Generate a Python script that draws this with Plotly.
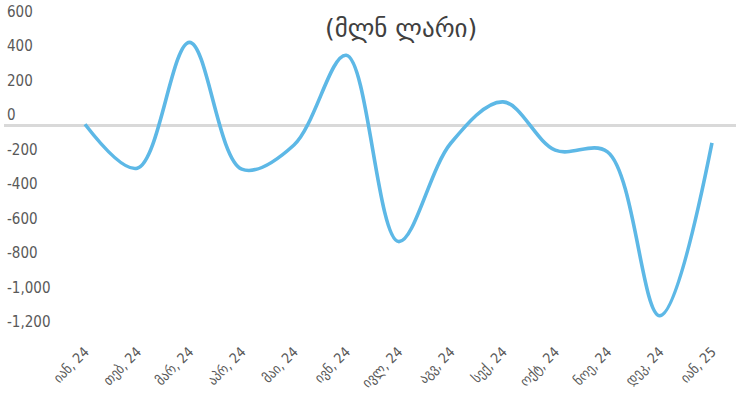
import plotly.graph_objects as go

# Monthly values, million GEL
months = ["იან, 24", "თებ, 24", "მარ, 24", "აპრ, 24", "მაი, 24", "ივნ, 24",
          "ივლ, 24", "აგვ, 24", "სექ, 24", "ოქტ, 24", "ნოე, 24", "დეკ, 24", "იან, 25"]
values = [10, -245, 485, -250, -110, 410, -670, -100, 140, -140, -150, -1100, -98]

y_ticks = [600, 400, 200, 0, -200, -400, -600, -800, -1000, -1200]
y_tick_text = ["600", "400", "200", "0", "-200", "-400", "-600", "-800", "-1,000", "-1,200"]

fig = go.Figure()
fig.add_trace(go.Scatter(
    x=months, y=values, mode="lines",
    line=dict(color="#5DB8E6", width=3.6, shape="spline", smoothing=1.0),
    hoverinfo="skip",
))

fig.update_layout(
    width=736, height=403,
    margin=dict(l=4, r=0, t=0, b=63),
    paper_bgcolor="white", plot_bgcolor="white",
    showlegend=False,
    title=dict(
        text="(მლნ ლარი)",
        x=0.545, xanchor="center", y=0.93, yanchor="middle",
        font=dict(family="DejaVu Sans", size=25, color="#404040"),
    ),
)
fig.update_xaxes(
    type="category", range=[-1.55, 12.46],
    showgrid=False, zeroline=False, showline=False, ticks="",
    tickangle=-45,
    tickfont=dict(family="DejaVu Sans Condensed, DejaVu Sans", size=14, color="#595959"),
)
fig.update_yaxes(
    range=[-1240.6, 730.4],
    tickvals=y_ticks, ticktext=y_tick_text,
    showgrid=False, showline=False, ticks="",
    zeroline=True, zerolinecolor="#D9D9D9", zerolinewidth=2.5,
    ticklabelposition="inside", ticklabelshift=-11,
    tickfont=dict(family="Liberation Sans Narrow, DejaVu Sans Condensed", size=15, color="#595959"),
)

fig.write_html("out.html")
